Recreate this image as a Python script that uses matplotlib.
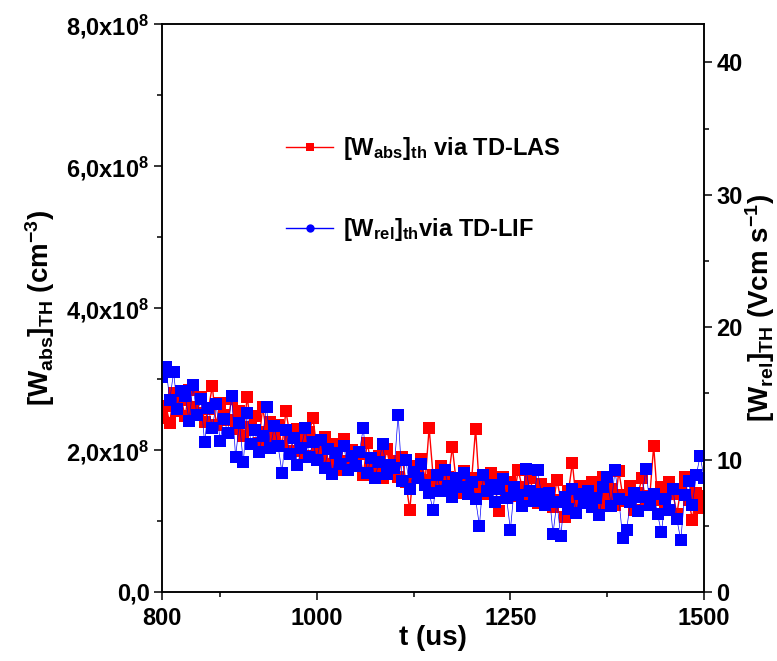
import matplotlib
matplotlib.use("Agg")
import matplotlib.pyplot as plt
from matplotlib.lines import Line2D
import numpy as np

plt.rcParams["font.family"] = ["Liberation Sans", "DejaVu Sans"]
plt.rcParams["font.weight"] = "bold"
plt.rcParams["axes.labelweight"] = "bold"
plt.rcParams["mathtext.fontset"] = "custom"
plt.rcParams["mathtext.rm"] = "Liberation Sans:bold"
plt.rcParams["mathtext.it"] = "Liberation Sans:bold"
plt.rcParams["mathtext.bf"] = "Liberation Sans:bold"
plt.rcParams["mathtext.default"] = "rm"

# time axis, us (5 us steps)
t = np.arange(800, 1501, 5)

# absolute density via TD-LAS, in 1e8 cm^-3
w_abs = [
    2.45, 2.62, 2.38, 2.80, 2.55, 2.70, 2.48, 2.85, 2.60, 2.52,
    2.75, 2.40, 2.58, 2.90, 2.35, 2.66, 2.50, 2.42, 2.72, 2.30,
    2.55, 2.20, 2.75, 2.32, 2.48, 2.10, 2.60, 2.25, 2.40, 2.18,
    2.35, 2.05, 2.55, 2.22, 1.98, 2.30, 2.12, 1.92, 2.25, 2.45,
    2.02, 1.88, 2.18, 1.80, 2.08, 1.95, 1.72, 2.15, 1.85, 2.00,
    1.78, 1.95, 1.65, 2.10, 1.82, 1.70, 1.92, 1.60, 2.02, 1.75,
    1.85, 1.62, 1.90, 1.55, 1.15, 1.78, 1.70, 1.88, 1.58, 2.31,
    1.65, 1.50, 1.78, 1.45, 1.62, 2.04, 1.55, 1.40, 1.70, 1.52,
    1.60, 2.30, 1.45, 1.58, 1.38, 1.68, 1.50, 1.14, 1.62, 1.42,
    1.55, 1.35, 1.72, 1.48, 1.30, 1.60, 1.40, 1.25, 1.52, 1.36,
    1.45, 1.20, 1.58, 1.30, 1.06, 1.42, 1.82, 1.28, 1.50, 1.35,
    1.25, 1.55, 1.38, 1.18, 1.62, 1.32, 1.45, 1.22, 1.70, 1.36,
    1.28, 1.50, 1.15, 1.40, 1.60, 1.25, 1.35, 2.06, 1.30, 1.48,
    1.22, 1.55, 1.38, 1.10, 1.45, 1.62, 1.30, 1.02, 1.40, 1.18,
    1.35,
]

# relative signal via TD-LIF, Vcm s^-1
w_rel = [
    16.2, 17.0, 14.5, 16.6, 13.8, 15.2, 14.8, 12.9, 15.6, 13.4,
    14.6, 11.3, 13.9, 12.4, 14.2, 11.4, 13.1, 12.0, 14.8, 10.2,
    12.8, 9.8, 13.5, 11.2, 12.2, 10.6, 11.8, 14.0, 10.9, 12.5,
    11.0, 9.0, 12.2, 10.4, 11.6, 9.6, 10.9, 12.4, 10.2, 11.3,
    10.0, 11.5, 9.4, 10.8, 8.9, 10.5, 9.7, 11.0, 9.2, 10.3,
    9.5, 10.6, 12.4, 9.0, 10.1, 8.6, 9.8, 11.2, 8.9, 9.6,
    9.4, 13.4, 8.4, 10.0, 7.8, 9.1, 8.6, 9.7, 8.1, 7.5,
    6.2, 8.8, 7.6, 9.2, 8.0, 7.2, 8.6, 7.9, 9.0, 7.4,
    8.3, 7.0, 5.0, 8.8, 7.6, 8.1, 6.8, 7.8, 8.5, 7.1,
    4.7, 7.9, 7.3, 6.5, 9.3, 7.6, 6.9, 9.2, 7.4, 6.6,
    7.5, 4.4, 6.8, 4.2, 7.2, 6.3, 7.8, 6.0, 7.4, 6.7,
    7.6, 6.4, 7.1, 5.8, 7.9, 8.7, 6.5, 9.2, 7.0, 4.1,
    4.7, 6.8, 7.5, 6.1, 7.2, 9.3, 6.6, 7.4, 5.9, 4.5,
    7.0, 6.2, 7.8, 5.5, 3.9, 7.3, 8.4, 6.6, 8.8, 10.3,
    8.6,
]

left_ticks = [0, 2e8, 4e8, 6e8, 8e8]
left_labels = ["0,0", r"2,0x10$^{8}$", r"4,0x10$^{8}$", r"6,0x10$^{8}$", r"8,0x10$^{8}$"]
x_ticks = [800, 1000, 1250, 1500]
right_ticks = [0, 10, 20, 30, 40]

fig = plt.figure(figsize=(7.77, 6.61), dpi=100)
ax = fig.add_axes([162 / 777, 69 / 661, 542 / 777, 568 / 661])
ax2 = ax.twinx()

ax.plot(t, np.array(w_abs) * 1e8, "-s", color="#ff0000", lw=1.0, ms=8, mew=0)
ax2.plot(t, w_rel, "-s", color="#0000ff", lw=0.5, ms=8, mew=0)

ax.set_xlim(800, 1500)
ax.set_ylim(0, 8e8)
ax2.set_ylim(0, 8e8 / 0.1865e8)

ax.set_xticks(x_ticks)
ax.set_xticks([875, 1125, 1375], minor=True)
ax.set_yticks(left_ticks)
ax.set_yticklabels(left_labels)
ax.set_yticks(np.arange(1e8, 8e8, 2e8), minor=True)
ax2.set_yticks(right_ticks)
ax2.set_yticks([5, 15, 25, 35], minor=True)

for a in (ax, ax2):
    a.tick_params(which="major", direction="out", length=6, width=1.1, labelsize=17)
    a.tick_params(which="minor", direction="out", length=3.5, width=1.1)
    for s in a.spines.values():
        s.set_linewidth(1.1)
ax.tick_params(axis="x", pad=5)
ax.tick_params(axis="y", pad=3)
ax2.tick_params(axis="y", pad=3)

ax.set_xlabel("t (us)", fontsize=20, labelpad=-4)
ax.set_ylabel(r"[W$_{abs}$]$_{TH}$ (cm$^{-3}$)", fontsize=20, labelpad=7)
ax2.set_ylabel(r"[W$_{rel}$]$_{TH}$ (Vcm s$^{-1}$)", fontsize=20, rotation=90, labelpad=0)

handles = [
    Line2D([], [], color="#ff0000", lw=1.0, marker="s", ms=6, mew=0),
    Line2D([], [], color="#0000ff", lw=1.0, marker="o", ms=6, mew=0),
]
labels = [r"[W$_{abs}$]$_{th}$ via TD-LAS", r"[W$_{rel}$]$_{th}$via TD-LIF"]
ax.legend(handles, labels, loc="upper left", bbox_to_anchor=(0.19, 0.842),
          frameon=False, fontsize=17, labelspacing=2.3, handlelength=2.0,
          handletextpad=0.4)

fig.savefig("out.png", dpi=100)
